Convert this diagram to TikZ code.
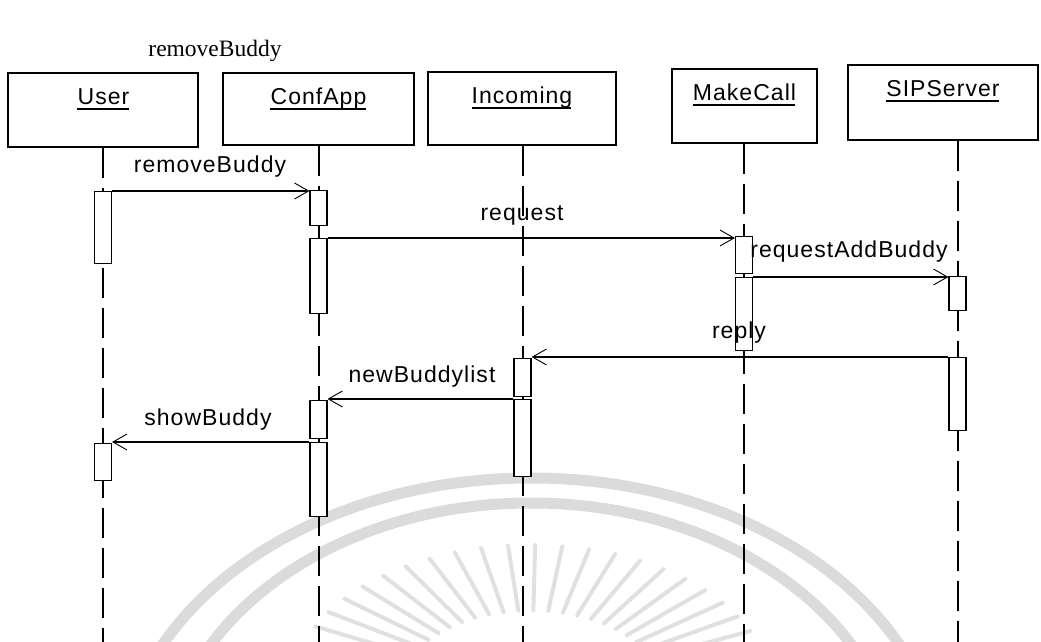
\documentclass[tikz,border=0pt]{standalone}
\usepackage{fontspec}
\setmainfont{Liberation Serif}
\newfontfamily\umlfont[LetterSpace=4.5]{Liberation Sans}
\usetikzlibrary{arrows.meta,calc}
\tikzset{
  objbox/.style={draw, line width=1.4pt, fill=white, inner sep=0pt},
  umltext/.style={font=\umlfont\fontsize{23}{25}\selectfont, anchor=base, inner sep=0pt},
  act/.style={draw, line width=1.2pt, fill=white, minimum width=17pt, anchor=north, inner sep=0pt},
  lifeline/.style={line width=1.2pt, dash pattern=on 30pt off 10pt},
  msg/.style={line width=1.2pt, -{Straight Barb[length=14pt,width=16pt,line width=0.9pt]}},
  wmark/.style={draw=black!14, line width=11pt},
  wray/.style={draw=black!12, line width=4pt, line cap=round},
}
\begin{document}
\begin{tikzpicture}[x=1pt,y=-1pt]
\useasboundingbox (0,0) rectangle (1041,642);

% faint seal in the background
\begin{scope}
  \clip (0,0) rectangle (1041,642);
  \draw[wmark] (531,780) ellipse [x radius=412, y radius=302];
  \draw[wmark] (531,780) ellipse [x radius=367, y radius=277];
  \foreach \a in {24,30.5,...,156}
    \draw[wray] ({531+0.55*240*cos(\a)},{690-0.55*145*sin(\a)}) -- ({531+240*cos(\a)},{690-145*sin(\a)});
\end{scope}

% title
\node[anchor=base, inner sep=0pt, font=\fontsize{23.5}{26}\selectfont] (title) at (215,57) {removeBuddy};

% lifeline ends
\coordinate (userEnd) at (103,642);
\coordinate (confEnd) at (319,642);
\coordinate (incEnd)  at (523,642);
\coordinate (makeEnd) at (744,642);
\coordinate (sipEnd)  at (958,642);

% object boxes
\node[objbox, minimum width=190pt, minimum height=74pt] (user) at (103,110) {};
\node[objbox, minimum width=191pt, minimum height=72pt] (conf) at (318.5,109) {};
\node[objbox, minimum width=188pt, minimum height=73pt] (inc)  at (522,108.5) {};
\node[objbox, minimum width=145pt, minimum height=74pt] (make) at (744.5,106) {};
\node[objbox, minimum width=190pt, minimum height=75pt] (sip)  at (943,102.5) {};

% lifelines
\draw[lifeline] (user.south -| userEnd) -- (userEnd);
\draw[lifeline] (conf.south -| confEnd) -- (confEnd);
\draw[lifeline] (inc.south -| incEnd) -- (incEnd);
\draw[lifeline] (make.south -| makeEnd) -- (makeEnd);
\draw[lifeline] (sip.south -| sipEnd) -- (sipEnd);

% object names
\node[umltext] (userName) at (103.5,104) {User};
\node[umltext] (confName) at (318.5,104) {ConfApp};
\node[umltext] (incName)  at (522,103) {Incoming};
\node[umltext] (makeName) at (744.5,100) {MakeCall};
\node[umltext] (sipName)  at (943,96) {SIPServer};
\foreach \n in {userName,confName,incName,makeName,sipName}
  \draw[line width=1.3pt] ($(\n.base west)+(0,5)$) -- ($(\n.base east)+(-1,5)$);

% activations
\node[act, minimum height=72pt] (u1) at (103,191) {};
\node[act, minimum height=37pt] (u2) at (103,443) {};
\node[act, minimum height=35pt] (c1) at (318.5,190) {};
\node[act, minimum height=75pt] (c2) at (318.5,238) {};
\node[act, minimum height=38pt] (c3) at (318.5,400) {};
\node[act, minimum height=74pt] (c4) at (318.5,442) {};
\node[act, minimum height=38pt] (i1) at (522.5,358) {};
\node[act, minimum height=77pt] (i2) at (522.5,399) {};
\node[act, minimum height=37pt] (m1) at (744,236) {};
\node[act, minimum height=73pt] (m2) at (744,277) {};
\node[act, minimum height=34pt] (s1) at (957.5,276) {};
\node[act, minimum height=73pt] (s2) at (957.5,357) {};

% messages
\draw[msg] (u1.north east) -- (u1.north east -| c1.west);
\draw[msg] (c2.north east) -- (c2.north east -| m1.west);
\draw[msg] (m2.north east) -- (m2.north east -| s1.west);
\draw[msg] (s2.north west) -- (s2.north west -| i1.east);
\draw[msg] (i2.north west) -- (i2.north west -| c3.east);
\draw[msg] (c4.north west) -- (c4.north west -| u2.east);

% message labels
\node[umltext] (lRemove) at (210,172) {removeBuddy};
\node[umltext] (lRequest) at (522,220) {request};
\node[umltext] (lAdd) at (849,257) {requestAddBuddy};
\node[umltext] (lReply) at (739,338) {reply};
\node[umltext] (lNew) at (422,382) {newBuddylist};
\node[umltext] (lShow) at (208,425) {showBuddy};
\end{tikzpicture}
\end{document}
